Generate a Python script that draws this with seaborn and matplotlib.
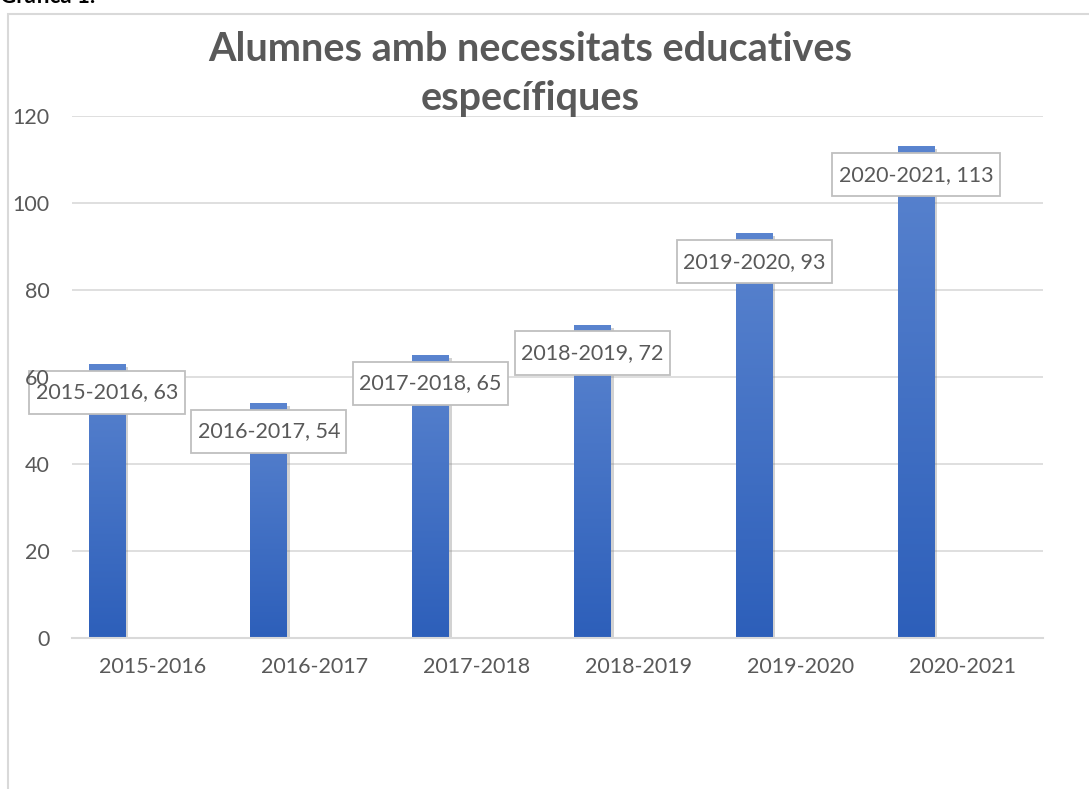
import numpy as np
import pandas as pd
import matplotlib
matplotlib.use("Agg")
import matplotlib.pyplot as plt
import matplotlib.patheffects as pe
from matplotlib.colors import LinearSegmentedColormap
from matplotlib.patches import Rectangle
import seaborn as sns

# ---- data ----
cursos = ["2015-2016", "2016-2017", "2017-2018", "2018-2019", "2019-2020", "2020-2021"]
alumnes = [63, 54, 65, 72, 93, 113]
titol = "Alumnes amb necessitats educatives\nespecífiques"
y_ticks = [0, 20, 40, 60, 80, 100, 120]

sns.set_theme(style="white")
FONT = "Lato"
plt.rcParams["font.family"] = [FONT, "DejaVu Sans"]
TXT = "#595959"
GRID = "#D9D9D9"

df = pd.DataFrame({
    "curs": cursos * 2,
    "valor": alumnes + [0] * len(alumnes),
    "serie": ["Alumnes"] * len(cursos) + ["buit"] * len(cursos),
})

fig = plt.figure(figsize=(10.89, 7.89), dpi=100)
# chart frame
fig.patches.append(Rectangle((8 / 1089, -0.1), 1.2, 1 - 14 / 789 + 0.1,
                             transform=fig.transFigure, fill=False,
                             edgecolor="#D9D9D9", linewidth=1.5, zorder=0))
fig.text(0.0, 1.0 + 0.004, "Gràfica 1.", fontsize=16, fontweight="bold",
         color="#000000", ha="left", va="center")

pos = [72 / 1089, 1 - 638 / 789, (1043 - 72) / 1089, (638 - 116) / 789]
ax = fig.add_axes(pos)
sns.barplot(data=df, x="curs", y="valor", hue="serie", hue_order=["Alumnes", "buit"],
            palette=["#4472C4", "#ED7D31"], width=1.136, gap=0.599,
            linewidth=0, legend=False, ax=ax, errorbar=None)

ax.set_ylim(0, 120)
ax.set_xlim(-0.5, len(cursos) - 0.5)
ax.set_yticks(y_ticks)
ax.yaxis.grid(True, color=GRID, linewidth=1.2)
ax.set_axisbelow(True)
for s in ["left", "right", "top"]:
    ax.spines[s].set_visible(False)
ax.spines["bottom"].set_color(GRID)
ax.spines["bottom"].set_linewidth(1.5)
ax.tick_params(axis="both", length=0, labelsize=15.5, colors=TXT)
ax.tick_params(axis="x", pad=14)
ax.tick_params(axis="y", labelleft=False)
ax.set_xlabel("")
ax.set_ylabel("")

cmap = LinearSegmentedColormap.from_list("g", ["#2D5FBA", "#5A84CF"])
grad = np.linspace(0, 1, 256).reshape(-1, 1)
bars = [p for p in ax.patches if p.get_height() > 0]
bars.sort(key=lambda p: p.get_x())
for p, lab, v in zip(bars, cursos, alumnes):
    p.set_path_effects([pe.SimplePatchShadow(offset=(2, -2), shadow_rgbFace="#808080", alpha=0.35),
                        pe.Normal()])
    x0, w, h = p.get_x(), p.get_width(), p.get_height()
    im = ax.imshow(grad, extent=(x0, x0 + w, 0, h), origin="lower", cmap=cmap,
                   aspect="auto", zorder=p.get_zorder() + 0.1)
    im.set_clip_path(p)
    t = ax.text(x0 + w / 2, v - 6.5, f"{lab}, {v}", ha="center", va="center",
                fontsize=15.5, color=TXT, zorder=10,
                bbox=dict(boxstyle="square,pad=0.3", facecolor="white",
                          edgecolor="#BFBFBF", linewidth=1.3))
    t.get_bbox_patch().set_mutation_aspect(1.8)
ax.set_xlim(-0.5, len(cursos) - 0.5)
ax.set_ylim(0, 120)

# y tick labels drawn on a transparent overlay so they sit above the data labels
ax_y = fig.add_axes(pos, sharey=ax, frameon=False)
ax_y.patch.set_visible(False)
ax_y.set_xticks([])
ax_y.set_yticks(y_ticks)
ax_y.tick_params(axis="y", length=0, labelsize=15.5, colors=TXT, pad=16)
ax_y.set_ylim(0, 120)

fig.text(530 / 1089, 1 - 74 / 789, titol, ha="center", va="center",
         fontsize=28.5, fontweight="bold", color=TXT, linespacing=1.42)

fig.savefig("out.png", dpi=100)
